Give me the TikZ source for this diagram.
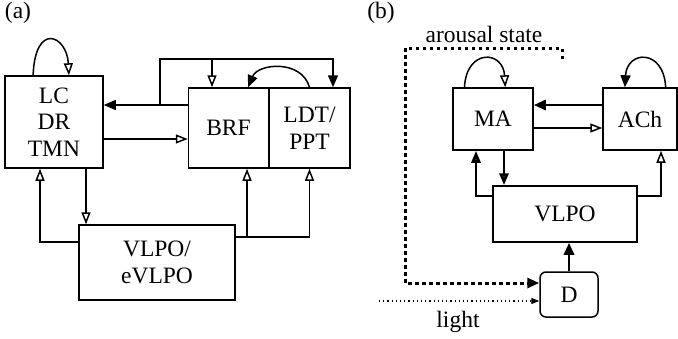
\documentclass[tikz,border=0pt]{standalone}
\usepackage{fontspec}
\setmainfont{Liberation Serif}
\usetikzlibrary{arrows.meta, calc}
\tikzset{
  every picture/.style={line width=1.5pt, x=1pt, y=-1pt},
  box/.style={draw, rectangle, align=center, inner sep=0pt, font=\fontsize{23.5}{26.5}\selectfont},
  lbl/.style={anchor=base, font=\fontsize{23.5}{26.5}\selectfont},
  openarr/.style={-{Triangle[open, length=12pt, width=9pt]}},
  fillarr/.style={-{Triangle[length=12pt, width=10pt]}},
  heavy/.style={line width=2.9pt},
  arousal/.style={line width=3pt, dash pattern=on 3.5pt off 3.5pt},
  lightline/.style={line width=1.2pt, dash pattern=on 1.2pt off 3pt},
}
\begin{document}
\begin{tikzpicture}
  \useasboundingbox (0,0) rectangle (678,338);
  % (a)
  \node[lbl] (tA) at (18,18) {(a)};
  \node[box, minimum width=98pt, minimum height=92pt] (LC) at (54,122) {LC\\DR\\TMN};
  \node[box, minimum width=80pt, minimum height=80pt] (BRF) at (228.5,128) {BRF};
  \node[box, minimum width=81pt, minimum height=80pt] (LDT) at (309.5,128) {LDT/\\PPT};
  \node[box, minimum width=156pt, minimum height=75pt] (VLPOa) at (157,262.5) {VLPO/\\eVLPO};
  \coordinate (ja) at (160,105);
  \coordinate (jt) at (212,59);
  \coordinate (jr) at (333,59);
  \coordinate (ya) at (0,139);
  \coordinate (xa) at (86,0);
  \coordinate (jb) at (40,242);
  \coordinate (jc) at (247,237);
  \draw[openarr] ($(LC.north west)!0.29!(LC.north east)$) .. controls +(2,-54) and +(-2,-40) .. ($(LC.north west)!0.65!(LC.north east)$);
  \draw[fillarr] (BRF.west |- ja) -- (LC.east |- ja);
  \draw[fillarr] (ja) |- (jr) -- (LDT.north -| jr);
  \draw[openarr] (jt) -- (BRF.north -| jt);
  \draw[fillarr] (LDT.north) .. controls +(-8,-28) and +(10,-24) .. ($(BRF.north west)!0.74!(BRF.north east)$);
  \draw[openarr] (LC.east |- ya) -- (BRF.west |- ya);
  \draw[openarr] (LC.south -| xa) -- (VLPOa.north -| xa);
  \draw[openarr] (VLPOa.west |- jb) -| (LC.south -| jb);
  \draw[openarr] (VLPOa.east |- jc) -| (LDT.south);
  \draw[openarr] (jc) -- (BRF.south -| jc);
  % (b)
  \node[lbl] (tB) at (381,18) {(b)};
  \node[box, minimum width=80pt, minimum height=62pt] (MA) at (493,119) {MA};
  \node[box, minimum width=74pt, minimum height=62pt] (ACh) at (640,119) {ACh};
  \node[box, minimum width=144pt, minimum height=56pt] (VLPOb) at (565,214) {VLPO};
  \node[box, rounded corners=6pt, minimum width=58pt, minimum height=45pt] (D) at (569,294.5) {D};
  \node[lbl] (arl) at (484,42) {arousal state};
  \node[lbl] (lgt) at (458,327) {light};
  \coordinate (yb1) at (0,105);
  \coordinate (yb2) at (0,128);
  \coordinate (xb1) at (504,0);
  \coordinate (jd) at (476,196);
  \coordinate (je) at (661,196);
  \coordinate (as) at (562,59);
  \coordinate (ac) at (405,48);
  \coordinate (yd) at (0,283);
  \coordinate (li) at (379,301);
  \draw[openarr] ($(MA.north west)!0.15!(MA.north east)$) .. controls +(2,-39) and +(-2,-37) .. ($(MA.north west)!0.65!(MA.north east)$);
  \draw[fillarr] ($(ACh.north west)!0.84!(ACh.north east)$) .. controls +(-2,-39) and +(2,-37) .. ($(ACh.north west)!0.3!(ACh.north east)$);
  \draw[fillarr, heavy] (ACh.west |- yb1) -- (MA.east |- yb1);
  \draw[openarr] (MA.east |- yb2) -- (ACh.west |- yb2);
  \draw[openarr, heavy] (MA.south -| xb1) -- (VLPOb.north -| xb1);
  \draw[openarr, heavy] (VLPOb.west |- jd) -| (MA.south -| jd);
  \draw[openarr] (VLPOb.east |- je) -| (ACh.south -| je);
  \draw[fillarr, heavy] (D.north) -- (VLPOb.south -| D.north);
  \draw[arousal, -{Triangle[length=12pt, width=10pt]}] (as) |- (ac) |- (D.west |- yd);
  \draw[lightline, -{Triangle[length=8pt, width=6pt]}] (li) -- (D.west |- li);
\end{tikzpicture}
\end{document}
